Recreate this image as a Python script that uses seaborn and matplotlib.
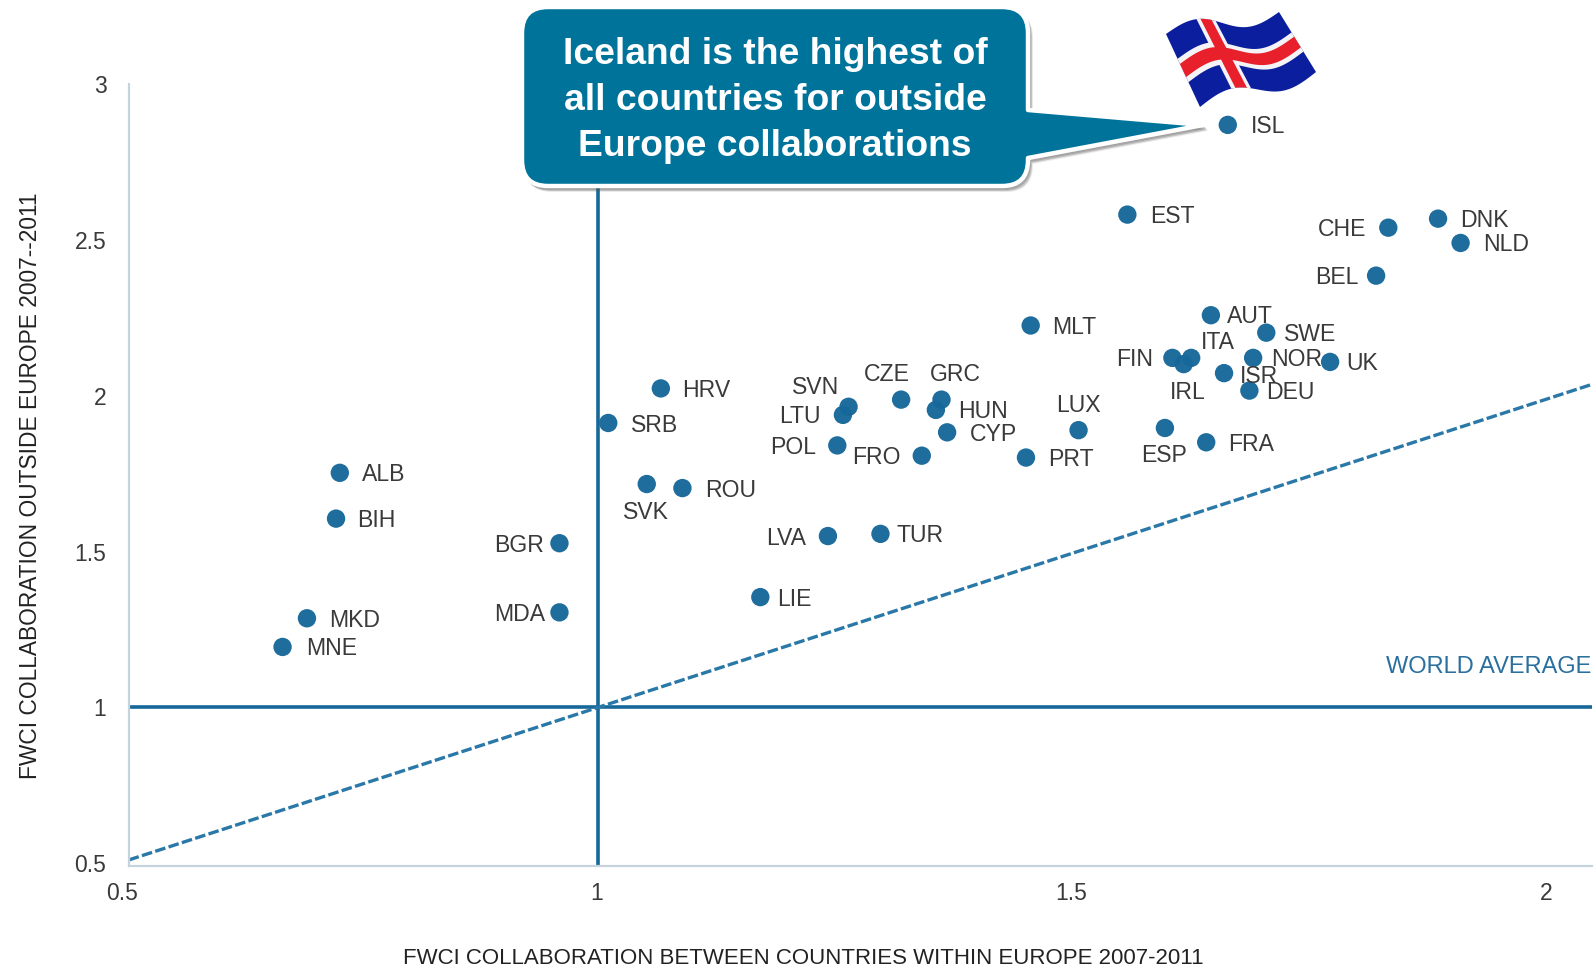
import numpy as np
import pandas as pd
import seaborn as sns
import matplotlib.pyplot as plt
import matplotlib.patches as mpatches
from matplotlib.path import Path
from matplotlib.transforms import ScaledTranslation

# values
countries = ["ISL", "EST", "CHE", "DNK", "NLD", "BEL", "AUT", "SWE", "MLT", "FIN", "ITA", "IRL", "NOR", "UK",
             "ISR", "DEU", "LUX", "ESP", "FRA", "PRT", "CZE", "GRC", "HUN", "CYP", "FRO", "SVN", "LTU", "POL",
             "HRV", "SRB", "SVK", "ROU", "LVA", "TUR", "LIE", "BGR", "MDA", "ALB", "BIH", "MKD", "MNE"]
within_europe = [1.671, 1.564, 1.842, 1.895, 1.919, 1.829, 1.653, 1.712, 1.461, 1.612, 1.632, 1.624, 1.698, 1.780,
                 1.667, 1.694, 1.512, 1.604, 1.648, 1.456, 1.323, 1.366, 1.360, 1.372, 1.345, 1.267, 1.261, 1.255,
                 1.067, 1.011, 1.052, 1.090, 1.245, 1.301, 1.173, 0.959, 0.959, 0.725, 0.721, 0.690, 0.664]
outside_europe = [2.870, 2.582, 2.540, 2.569, 2.491, 2.386, 2.259, 2.203, 2.226, 2.122, 2.122, 2.102, 2.122, 2.109,
                  2.073, 2.017, 1.890, 1.897, 1.851, 1.802, 1.988, 1.988, 1.955, 1.883, 1.808, 1.965, 1.939, 1.841,
                  2.024, 1.913, 1.717, 1.704, 1.550, 1.557, 1.354, 1.527, 1.305, 1.753, 1.606, 1.286, 1.194]
x_ticks = [0.5, 1, 1.5, 2]
y_ticks = [0.5, 1, 1.5, 2, 2.5, 3]
parity_x = [0.5, 2.059]
parity_y = [0.51, 2.037]

# label offset from its dot in px: dx, dy (down is positive), negative dx means right aligned
label_offsets = {
    "ISL": (23, 0), "EST": (22, 0), "CHE": (-22, 0), "DNK": (22, 0), "NLD": (22, 0), "BEL": (-17, 0),
    "AUT": (16, -1), "SWE": (17, 0), "MLT": (21, 0), "FIN": (-19, 0), "ITA": (10, -17), "IRL": (-14, 26),
    "NOR": (18, 0), "UK": (16, 0), "ISR": (16, 1), "DEU": (16, 0), "LUX": (-22, -26), "ESP": (-23, 25),
    "FRA": (22, 0), "PRT": (22, 0), "CZE": (-37, -27), "GRC": (-11, -27), "HUN": (22, 0), "CYP": (22, 0),
    "FRO": (-21, 0), "SVN": (-9, -21), "LTU": (-22, 0), "POL": (-21, 0), "HRV": (21, 0), "SRB": (22, 0),
    "SVK": (-23, 26), "ROU": (22, 0), "LVA": (-21, 0), "TUR": (16, 0), "LIE": (17, 0), "BGR": (-15, 0),
    "MDA": (-14, 0), "ALB": (22, 0), "BIH": (21, 0), "MKD": (22, 0), "MNE": (23, 0),
}

W, H = 1595, 968
BLUE = "#17689a"
TEAL = "#00739a"
GREY = "#3a3a3a"

sns.set_theme(style="white")
plt.rcParams['font.family'] = ["Liberation Sans"]

fig = plt.figure(figsize=(W / 100, H / 100), dpi=100)
ax = fig.add_axes([128.6 / W, (H - 865.6) / H, (1592 - 128.6) / W, (865.6 - 84.4) / H])

df = pd.DataFrame({"within": within_europe, "outside": outside_europe, "country": countries})

ax.axvline(1, color=BLUE, lw=2.6, zorder=1)
ax.axhline(1, color=BLUE, lw=2.6, zorder=1)
ax.plot(parity_x, parity_y, color="#2a78a8", lw=2.4, dashes=(3.2, 1), zorder=1)

sns.scatterplot(data=df, x="within", y="outside", color=BLUE, s=175, edgecolor="none", alpha=0.97, ax=ax, zorder=3)

for name, xv, yv in zip(countries, within_europe, outside_europe):
    dx, dy = label_offsets[name]
    ax.annotate(name, (xv, yv), xytext=(dx * 0.732, -(dy + 2) * 0.732), textcoords="offset points",
                ha="left" if dx > 0 or name in ("ITA", "IRL", "LUX", "ESP", "CZE", "GRC", "SVK") else "right",
                va="center", fontsize=16.6, color=GREY, zorder=4)

ax.text(2.058, 1.13, "WORLD AVERAGE", color="#2a6f9e", fontsize=17, ha="right", va="center")

ax.set_xlim(0.5, 2.059)
ax.set_ylim(0.492, 3.0)
ax.set_xticks(x_ticks)
ax.set_xticklabels(["0.5", "1", "1.5", "2"])
ax.set_yticks(y_ticks)
ax.set_yticklabels(["0.5", "1", "1.5", "2", "2.5", "3"])
ax.tick_params(length=0, labelsize=16.5, labelcolor=GREY)
ax.tick_params(axis="x", pad=11.5)
ax.tick_params(axis="y", pad=16)
for lab, shift in zip(ax.get_xticklabels(), [-6.5, -1, 3.7, 9.2]):
    lab.set_transform(lab.get_transform() + ScaledTranslation(shift / 100, 0, fig.dpi_scale_trans))

ax.set_xlabel("")
ax.set_ylabel("")
sns.despine(ax=ax)
for side in ["left", "bottom"]:
    ax.spines[side].set_color("#c5d3dc")
    ax.spines[side].set_linewidth(1.6)

fig.text(803 / W, 1 - 959 / H, "FWCI COLLABORATION BETWEEN COUNTRIES WITHIN EUROPE 2007-2011",
         fontsize=16, color="#222222", ha="center", va="center")
fig.text(31 / W, 1 - 486 / H, "FWCI COLLABORATION OUTSIDE EUROPE 2007--2011",
         fontsize=16.4, color="#222222", ha="center", va="center", rotation=90)

# overlay in pixel coords for the callout and the flag
over = fig.add_axes([0, 0, 1, 1], zorder=5)
over.set_xlim(0, W)
over.set_ylim(H, 0)
over.axis("off")

l, r, t, b, c = 522, 1028, 7, 186, 26
verts = [(l + c, t), (r - c, t), (r, t), (r, t + c), (r, 110), (1203, 125), (r, 158), (r, b - c), (r, b), (r - c, b),
         (l + c, b), (l, b), (l, b - c), (l, t + c), (l, t), (l + c, t), (l + c, t)]
codes = [Path.MOVETO, Path.LINETO, Path.CURVE3, Path.CURVE3, Path.LINETO, Path.LINETO, Path.LINETO, Path.LINETO,
         Path.CURVE3, Path.CURVE3, Path.LINETO, Path.CURVE3, Path.CURVE3, Path.LINETO, Path.CURVE3, Path.CURVE3,
         Path.CLOSEPOLY]
callout = Path(verts, codes)
for i, alpha in zip([6, 5, 4], [0.12, 0.16, 0.22]):
    shadow = Path(np.array(verts) + [i - 2, i - 1], codes)
    over.add_patch(mpatches.PathPatch(shadow, fc="#555555", ec="#555555", lw=1.5, alpha=alpha))
over.add_patch(mpatches.PathPatch(callout, fc=TEAL, ec="white", lw=3.2, joinstyle="round"))
for line, yp in zip(["Iceland is the highest of", "all countries for outside", "Europe collaborations"],
                    [55, 100, 146]):
    over.text(775, yp, line, color="white", fontsize=26.8, fontweight="bold", ha="center", va="center")

# flag: a waved sheet with the cross on it
tl, tr = np.array([1166.0, 34.0]), np.array([1279.0, 12.0])
bl, br = np.array([1200.0, 107.0]), np.array([1316.0, 72.0])


def sheet(u, v):
    u, v = np.asarray(u, float), np.asarray(v, float)
    top = tl[None, :] + (tr - tl)[None, :] * u[:, None]
    bot = bl[None, :] + (br - bl)[None, :] * u[:, None]
    pts = top + (bot - top) * v[:, None]
    pts[:, 1] += -9 * np.sin(2 * np.pi * u)
    return pts


def band(u0, u1, v0, v1, color):
    n = 40
    us = np.linspace(u0, u1, n)
    vs = np.linspace(v0, v1, n)
    outline = np.vstack([sheet(us, np.full(n, v0)), sheet(np.full(n, u1), vs),
                         sheet(us[::-1], np.full(n, v1)), sheet(np.full(n, u0), vs[::-1])])
    over.add_patch(mpatches.Polygon(outline, closed=True, fc=color, ec="none"))


band(0, 1, 0, 1, "#0b1f9e")
band(0.27, 0.44, 0, 1, "#f4f4f6")
band(0, 1, 0.34, 0.66, "#f4f4f6")
band(0.305, 0.405, 0, 1, "#e8202c")
band(0, 1, 0.41, 0.59, "#e8202c")

fig.savefig("out.png", dpi=100)
